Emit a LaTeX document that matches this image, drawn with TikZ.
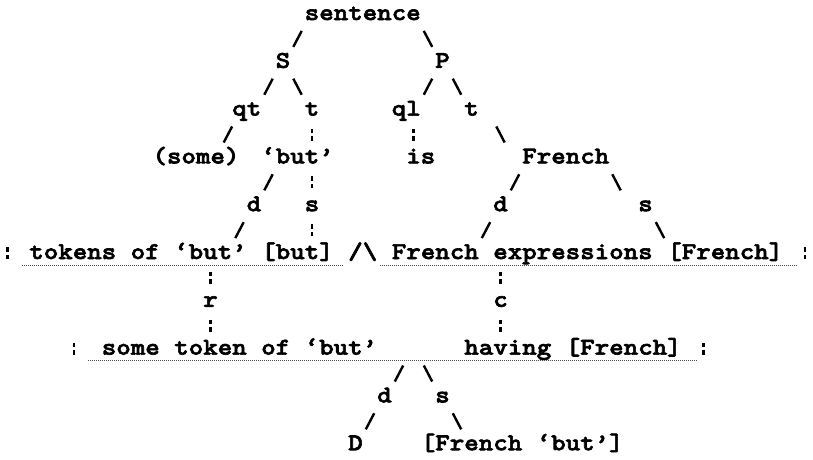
\documentclass[tikz,border=0pt]{standalone}
\usepackage{fontspec}
\usetikzlibrary{calc}
\newfontfamily\treefont{lmmonolt10-bold.otf}[FakeStretch=1.15, FakeBold=2.6]

\begin{document}
\begin{tikzpicture}[x=14.5pt, y=-23.9pt,
  fwd/.style={line width=2.4pt, to path={let \p1=(\tikztostart.north), \p2=(\tikztotarget.south) in
      (\x1+#1*14.5pt, \y1/2+\y2/2) +(-4.2pt,-8pt) -- +(4.2pt,8pt)}},
  bwd/.style={line width=2.4pt, to path={let \p1=(\tikztostart.north), \p2=(\tikztotarget.south) in
      (\x1+#1*14.5pt, \y1/2+\y2/2) +(4.2pt,-8pt) -- +(-4.2pt,8pt)}},
  link/.style={line width=2.4pt, dash pattern=on 4.5pt off 3pt, to path={let \p1=(\tikztostart.north), \p2=(\tikztotarget.south) in
      (\x1+#1*14.5pt, \y1/2+\y2/2) +(0pt,-6pt) -- +(0pt,6pt)}},
  colon/.style={line width=2.4pt, dash pattern=on 4.5pt off 3pt},
  uline/.style={line width=0.8pt, black!70, dash pattern=on 0.8pt off 1.2pt}]
\tikzstyle{every node}=[font=\treefont\fontsize{24}{24}\selectfont,
                        inner sep=0pt, anchor=base, text height=14pt, text depth=4pt]
\useasboundingbox (-7.5pt,20pt) rectangle (805.5pt,-439pt);
\node (sentence) at (24.5,0) {sentence};
\node (S) at (19,2) {S};
\node (P) at (30,2) {P};
\node (qt) at (16.5,4) {qt};
\node (tS) at (21,4) {t};
\node (ql) at (27.5,4) {ql};
\node (tP) at (32,4) {t};
\node (some) at (13,6) {(some)};
\node (but) at (20,6) {‘but’};
\node (is) at (28.5,6) {is};
\node (French) at (38.5,6) {French};
\node (dS) at (17,8) {d};
\node (sS) at (21,8) {s};
\node (dP) at (34,8) {d};
\node (sP) at (44,8) {s};
\node (tok) at (9,10) {tokens of ‘but’};
\node (tokb) at (20,10) {[but]};
\node (and) at (24.5,10) {/\textbackslash};
\node (fe) at (35.5,10) {French expressions};
\node (feb) at (49.5,10) {[French]};
\node (r) at (14,12) {r};
\node (c) at (34,12) {c};
\node (stok) at (16,14) {some token of ‘but’};
\node (hav) at (39,14) {having [French]};
\node (dD) at (26,16) {d};
\node (sF) at (30,16) {s};
\node (D) at (24,18) {D};
\node (fb) at (35.5,18) {[French ‘but’]};

% branches, one short stroke per row
\draw[fwd=1] (S) to (sentence);
\draw[bwd=-1] (P) to (sentence);
\draw[fwd=1.5] (qt) to (S);
\draw[bwd=-1] (tS) to (S);
\draw[fwd=1.5] (ql) to (P);
\draw[bwd=-1] (tP) to (P);
\draw[fwd=2.2] (some) to (qt);
\draw[link=1] (but) to (tS);
\draw[link=-.5] (is) to (ql);
\draw[bwd=-4.5] (French) to (tP);
\draw[fwd=1] (dS) to (but);
\draw[link=0] (sS) to (but);
\draw[fwd=1] (dP) to (French);
\draw[bwd=-2] (sP) to (French);
\draw[fwd=7] (tok) to (dS);
\draw[link=1] (tokb) to (sS);
\draw[fwd=-2.5] (fe) to (dP);
\draw[bwd=-4.5] (feb) to (sP);
\draw[link=0] (r) to (tok);
\draw[link=0] (c) to (fe);
\draw[link=-2] (stok) to (r);
\draw[link=-5] (hav) to (c);
\draw[fwd=1] (dD) to (stok);
\draw[bwd=-1] (sF) to (hav);
\draw[fwd=1] (D) to (dD);
\draw[bwd=-4.5] (fb) to (sF);

% dotted underlines and end marks
\draw[uline] ([xshift=-7pt,yshift=-6pt]tok.base west) -- ([xshift=9pt,yshift=-6pt]tokb.base east);
\draw[uline] ([xshift=-12pt,yshift=-6pt]fe.base west) -- ([xshift=13pt,yshift=-6pt]feb.base east);
\draw[uline] ([xshift=-14pt,yshift=-6pt]stok.base west) -- ([xshift=14pt,yshift=-6pt]hav.base east);
\draw[colon] (0,10) -- ++(0pt,12pt);
\draw[colon] (55,10) -- ++(0pt,12pt);
\draw[colon] (4.6,14) -- ++(0pt,12pt);
\draw[colon] (48,14) -- ++(0pt,12pt);
\end{tikzpicture}
\end{document}
